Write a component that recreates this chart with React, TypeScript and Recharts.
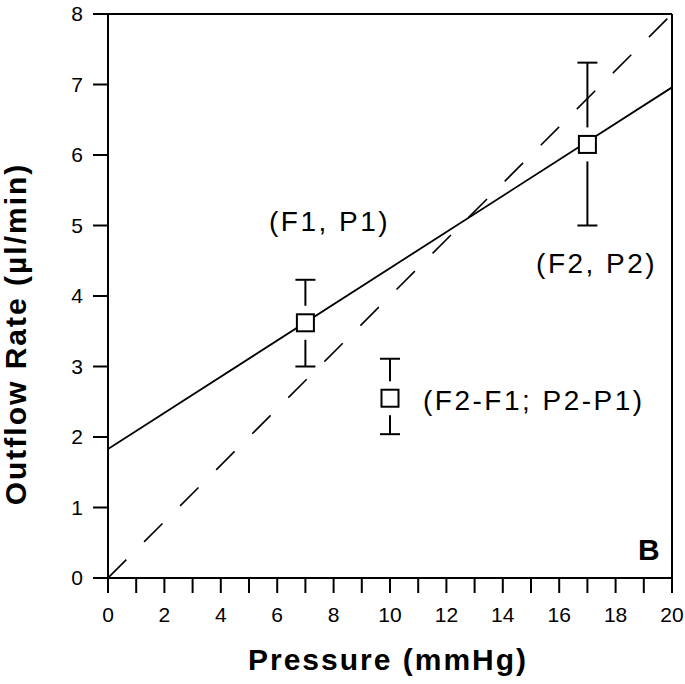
import React from 'react';
import { ScatterChart, Scatter, XAxis, YAxis, ErrorBar, ReferenceLine } from 'recharts';

// measured points (pressure, outflow rate) with their error ranges
const pressures = [7, 17, 10];
const rates = [3.62, 6.15, 2.55];
const rateLow = [3.0, 5.0, 2.04];
const rateHigh = [4.23, 7.31, 3.11];

// fitted line through (F1,P1) and (F2,P2), and the dashed reference line
const fitX = [0, 20];
const fitY = [1.83, 6.96];
const dashX = [0, 20];
const dashY = [0, 8];

const xTicks = [0, 1, 2, 3, 4, 5, 6, 7, 8, 9, 10, 11, 12, 13, 14, 15, 16, 17, 18, 19, 20];
const yTicks = [0, 1, 2, 3, 4, 5, 6, 7, 8];

// annotations, anchored in data units (text start, baseline)
const noteText = ['(F1, P1)', '(F2, P2)', '(F2-F1; P2-P1)'];
const noteX = [5.71, 15.18, 11.17];
const noteY = [4.92, 4.33, 2.38];
const panelText = ['B'];
const panelX = [18.79];
const panelY = [0.26];

const xTitle = 'Pressure (mmHg)';
const yTitle = 'Outflow Rate (µl/min)';

const font = '"Liberation Sans", Arial, Helvetica, sans-serif';

const points = pressures.map((x, i) => ({
  x,
  y: rates[i],
  err: [rates[i] - rateLow[i], rateHigh[i] - rates[i]],
}));
const fitData = fitX.map((x, i) => ({ x, y: fitY[i] }));
const dashData = dashX.map((x, i) => ({ x, y: dashY[i] }));
const notes = noteText.map((text, i) => ({ x: noteX[i], y: noteY[i], text }));
const panel = panelText.map((text, i) => ({ x: panelX[i], y: panelY[i], text }));

const Nothing = () => <g />;

const SquareMark = (props: any) => {
  const { cx, cy } = props;
  if (cx == null || cy == null) return <g />;
  return (
    <g>
      {/* white gap between the whiskers and the box */}
      <rect x={cx - 3} y={cy - 17} width={6} height={34} fill="#fff" />
      <rect x={cx - 8.5} y={cy - 8.5} width={17} height={17} fill="#fff" stroke="#000" strokeWidth={2} />
    </g>
  );
};

const NoteMark = (props: any) => {
  const { cx, cy, payload } = props;
  return (
    <text x={cx} y={cy} fontFamily={font} fontSize={28} letterSpacing={2.5} fill="#000">
      {payload.text}
    </text>
  );
};

const PanelMark = (props: any) => {
  const { cx, cy, payload } = props;
  return (
    <text x={cx} y={cy} fontFamily={font} fontSize={30} fontWeight="bold" fill="#000">
      {payload.text}
    </text>
  );
};

const XTitle = (props: any) => {
  const vb = props.viewBox || { x: 108, y: 578, width: 564 };
  return (
    <text
      x={vb.x + vb.width / 2 - 2}
      y={vb.y + 92}
      textAnchor="middle"
      fontFamily={font}
      fontSize={30}
      fontWeight="bold"
      letterSpacing={2}
      fill="#000"
    >
      {xTitle}
    </text>
  );
};

const YTitle = (props: any) => {
  const vb = props.viewBox || { x: 0, y: 14, height: 564 };
  const x = vb.x + 26;
  const y = vb.y + vb.height / 2 + 38;
  return (
    <text
      x={x}
      y={y}
      transform={`rotate(-90, ${x}, ${y})`}
      textAnchor="middle"
      fontFamily={font}
      fontSize={30}
      fontWeight="bold"
      letterSpacing={2}
      fill="#000"
    >
      {yTitle}
    </text>
  );
};

const axisStroke = { stroke: '#000', strokeWidth: 2 };
const tickStyle = { fill: '#000', fontSize: 21, fontFamily: font };

export default function App() {
  return (
    <div style={{ position: 'absolute', left: 0, top: 0, background: '#fff' }}>
      <ScatterChart width={685} height={684} margin={{ top: 14, right: 13, bottom: 46, left: 0 }}>
        <XAxis
          type="number"
          dataKey="x"
          domain={[0, 20]}
          ticks={xTicks}
          interval={0}
          allowDataOverflow
          tickFormatter={(v: number) => (v % 2 === 0 ? String(v) : '')}
          tick={tickStyle}
          tickSize={15}
          tickMargin={14}
          height={60}
          axisLine={axisStroke}
          tickLine={axisStroke}
          label={{ content: (p: any) => <XTitle {...p} /> }}
        />
        <YAxis
          type="number"
          dataKey="y"
          domain={[0, 8]}
          ticks={yTicks}
          interval={0}
          allowDataOverflow
          tick={tickStyle}
          tickSize={15}
          tickMargin={10}
          width={108}
          axisLine={axisStroke}
          tickLine={axisStroke}
          label={{ content: (p: any) => <YTitle {...p} /> }}
        />
        <ReferenceLine y={8} stroke="#000" strokeWidth={2} />
        <ReferenceLine x={20} stroke="#000" strokeWidth={2} />
        <Scatter
          data={dashData}
          line={{ stroke: '#000', strokeWidth: 1.6, strokeDasharray: '26 25' }}
          shape={Nothing}
          isAnimationActive={false}
        />
        <Scatter
          data={fitData}
          line={{ stroke: '#000', strokeWidth: 1.8 }}
          shape={Nothing}
          isAnimationActive={false}
        />
        <Scatter data={points} shape={SquareMark} isAnimationActive={false}>
          <ErrorBar dataKey="err" direction="y" width={10} stroke="#000" strokeWidth={2} isAnimationActive={false} />
        </Scatter>
        <Scatter data={notes} shape={NoteMark} isAnimationActive={false} />
        <Scatter data={panel} shape={PanelMark} isAnimationActive={false} />
      </ScatterChart>
    </div>
  );
}
